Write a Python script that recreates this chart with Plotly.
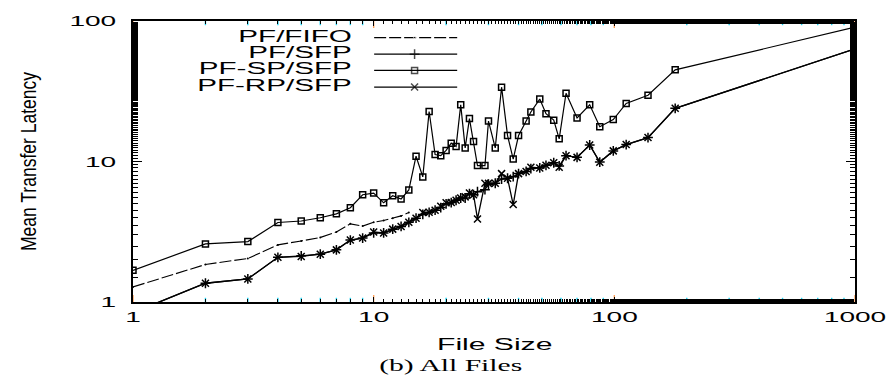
import plotly.graph_objects as go

# File-size bins and mean transfer latency for each scheduling policy
file_size = [1, 2, 3, 4, 5, 6, 7, 8, 9, 10, 11, 12, 13, 14, 15, 16, 17, 18, 19, 20,
             21, 22, 23, 24, 25, 26, 27, 29, 30, 32, 34, 36, 38, 40, 43, 45, 49, 52,
             56, 59, 63, 70, 79, 87, 99, 112, 138, 179, 1000]

fifo_size = [1, 2, 3, 4, 5, 6, 7, 8, 9, 10, 11, 12, 13, 14]
pf_fifo = [1.28, 1.85, 2.04, 2.55, 2.72, 2.88, 3.15, 3.6, 3.47, 3.7, 3.8, 3.95, 4.1, 4.33]

pf_sfp = [0.84, 1.36, 1.46, 2.08, 2.13, 2.19, 2.35, 2.76, 2.85, 3.1, 3.1, 3.3, 3.45, 3.69,
          3.95, 4.2, 4.35, 4.5, 4.7, 5.0, 5.1, 5.3, 5.5, 5.5, 5.9, 5.8, 6.1, 6.3, 6.9,
          7.0, 7.5, 7.6, 7.8, 8.2, 8.5, 8.9, 9.0, 9.4, 9.8, 9.3, 11.0, 10.7, 13.1, 9.9,
          11.9, 13.2, 14.8, 23.9, 63.3]

pf_sp_sfp = [1.68, 2.59, 2.69, 3.68, 3.77, 3.98, 4.24, 4.69, 5.8, 5.96, 5.08, 5.7, 5.41,
             6.28, 10.9, 7.77, 22.7, 11.2, 11.0, 12.0, 13.5, 12.8, 25.3, 12.5, 20.2, 13.9,
             9.35, 9.35, 19.4, 12.5, 33.8, 15.3, 10.4, 15.3, 19.4, 22.5, 27.8, 21.9, 19.7,
             14.5, 30.6, 20.4, 25.3, 17.7, 19.9, 25.9, 29.6, 44.9, 90.4]

pf_rp_sfp = [0.84, 1.36, 1.46, 2.08, 2.11, 2.19, 2.35, 2.76, 2.85, 3.15, 3.1, 3.3, 3.45,
             3.69, 3.95, 4.33, 4.35, 4.5, 4.8, 5.08, 5.1, 5.3, 5.5, 5.6, 5.96, 5.8, 3.9,
             7.0, 6.99, 7.0, 8.2, 7.6, 4.94, 8.2, 8.5, 9.1, 9.0, 9.4, 9.8, 9.1, 11.0, 10.7,
             13.1, 9.87, 11.9, 13.2, 14.8, 23.9, 63.3]

series_names = ["PF/FIFO", "PF/SFP", "PF-SP/SFP", "PF-RP/SFP"]
x_tick_vals = [1, 10, 100, 1000]
x_tick_text = ["1", "10", "100", "1000"]
x_minor_vals = [m * d for d in (1, 10, 100) for m in range(2, 10)]
y_tick_vals = [1, 10, 100]
y_tick_text = ["1", "10", "100"]
y_limits = [1, 100]

INK = "black"
SANS = "Liberation Sans, Arial, Helvetica, sans-serif"

styles = [
    dict(line=dict(color=INK, width=1.1, dash="12px,3px"),
         marker=dict(symbol="circle", size=2, color=INK)),
    dict(line=dict(color=INK, width=1.3),
         marker=dict(symbol="cross-thin", size=7, line=dict(color=INK, width=1.5))),
    dict(line=dict(color=INK, width=1.2),
         marker=dict(symbol="square-open", size=6, color=INK, line=dict(color=INK, width=1.5))),
    dict(line=dict(color=INK, width=1.3),
         marker=dict(symbol="x-thin", size=7, line=dict(color=INK, width=1.5))),
]

fig = go.Figure()

data_x = [fifo_size, file_size, file_size, file_size]
data_y = [pf_fifo, pf_sfp, pf_sp_sfp, pf_rp_sfp]
for name, xs, ys, st in zip(series_names, data_x, data_y, styles):
    fig.add_trace(go.Scatter(x=xs, y=ys, name=name, mode="lines+markers",
                             showlegend=False, cliponaxis=True, **st))

# Inward tick marks on the bottom and top edges: vertical bars centred on the
# edge and clipped by the plot area so only the inner half shows
for vals, size in ((x_tick_vals, 10), (x_minor_vals, 6)):
    fig.add_trace(go.Scatter(
        x=[v for v in vals for _ in y_limits], y=[lim for _ in vals for lim in y_limits],
        mode="markers", cliponaxis=True, showlegend=False, hoverinfo="skip",
        marker=dict(symbol="line-ns-open", size=size, line=dict(color=INK, width=1.4))))


def frac_x(f):
    """Axis-fraction position -> data value on the 1..1000 log axis."""
    return 10 ** (3 * f)


def frac_y(f):
    """Axis-fraction position -> data value on the 1..100 log axis."""
    return 10 ** (2 * f)


# Key in the upper left: label to the left, sample line with a centred point
key_rows = [0.941, 0.882, 0.824, 0.765]
for name, yk, st in zip(series_names, key_rows, styles):
    mk = dict(st["marker"])
    mk["size"] = [0, mk["size"], 0]
    fig.add_trace(go.Scatter(x=[frac_x(0.334), frac_x(0.39), frac_x(0.449)],
                             y=[frac_y(yk)] * 3, mode="lines+markers",
                             line=st["line"], marker=mk,
                             showlegend=False, hoverinfo="skip"))
fig.add_trace(go.Scatter(x=[frac_x(0.303)] * 4, y=[frac_y(v) for v in key_rows],
                         mode="text", text=series_names, textposition="middle left",
                         textfont=dict(family=SANS, size=16, color=INK),
                         showlegend=False, hoverinfo="skip"))

axis_common = dict(type="log", showgrid=False, zeroline=False, showline=True,
                   linecolor=INK, linewidth=1.6, mirror="allticks", ticks="inside",
                   tickcolor=INK, tickwidth=1.4,
                   tickfont=dict(family=SANS, size=15, color=INK))

fig.update_layout(
    width=886, height=376,
    margin=dict(l=133, r=31, t=13, b=74),
    paper_bgcolor="white", plot_bgcolor="white",
    xaxis=dict(range=[0, 3], tickvals=x_tick_vals, ticktext=x_tick_text, ticklen=5,
               minor=dict(ticks="inside", ticklen=3, tickcolor=INK, tickwidth=1.4),
               **axis_common),
    yaxis=dict(range=[0, 2], tickvals=y_tick_vals, ticktext=y_tick_text, ticklen=9,
               ticklabelstandoff=12,
               minor=dict(ticks="inside", ticklen=5, tickcolor=INK, tickwidth=1.4),
               **axis_common),
    annotations=[
        dict(text="Mean Transfer Latency", xref="paper", yref="paper", x=-0.1447, y=0.5,
             textangle=-90, showarrow=False, xanchor="center", yanchor="middle",
             font=dict(family=SANS, size=22, color=INK)),
        dict(text="File Size", xref="paper", yref="paper", x=0.5, y=-0.152,
             showarrow=False, xanchor="center", yanchor="middle",
             font=dict(family=SANS, size=16, color=INK)),
        dict(text="(b) All Files", xref="paper", yref="paper", x=0.44, y=-0.229,
             showarrow=False, xanchor="center", yanchor="middle",
             font=dict(family="Liberation Serif, Times New Roman, serif", size=16, color=INK)),
    ],
)

# Widen the lettering horizontally (wide, flattened typeface look)
post = """
var gd = document.getElementById('{plot_id}');
function widen(sel, k) {
  gd.querySelectorAll(sel).forEach(function (t) {
    var w = t.getComputedTextLength();
    t.setAttribute('textLength', w * k);
    t.setAttribute('lengthAdjust', 'spacingAndGlyphs');
  });
}
widen('g.xtick text', 1.87);
widen('g.ytick text', 1.87);
widen('g.textpoint text', 1.85);
widen('g.annotation[data-index="1"] text', 1.88);
widen('g.annotation[data-index="2"] text', 1.85);
gd.querySelectorAll('g.annotation[data-index="0"] text').forEach(function (t) {
  t.setAttribute('textLength', 179);
  t.setAttribute('lengthAdjust', 'spacingAndGlyphs');
});
"""

fig.write_html("out.html", post_script=post)
